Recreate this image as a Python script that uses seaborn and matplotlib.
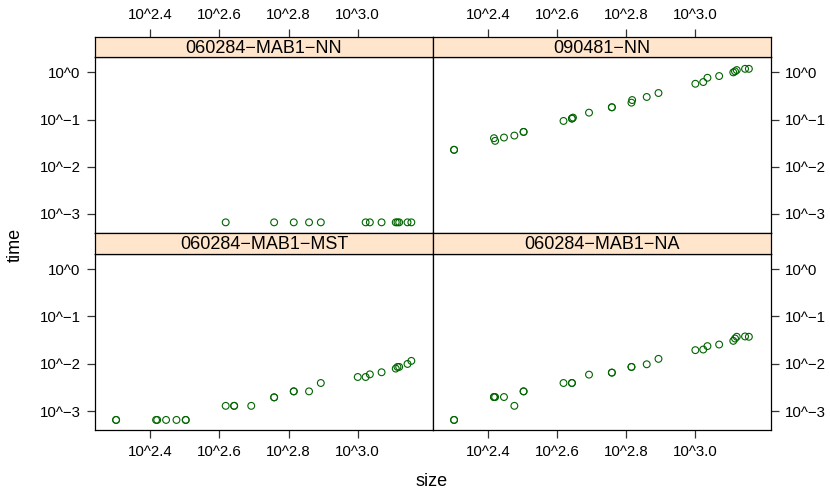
import numpy as np
import pandas as pd
import matplotlib
matplotlib.use("Agg")
import matplotlib.pyplot as plt
import seaborn as sns

sns.set_style("white")
plt.rcParams['font.family'] = ['Liberation Sans', 'DejaVu Sans']
plt.rcParams['text.color'] = 'black'
plt.rcParams['xtick.labelcolor'] = 'black'
plt.rcParams['ytick.labelcolor'] = 'black'

# ---- data ----
panels = ["060284\u2212MAB1\u2212NN", "090481\u2212NN", "060284\u2212MAB1\u2212MST", "060284\u2212MAB1\u2212NA"]

size_mab1_nn = [415, 573, 653, 723, 782, 1054, 1084, 1172, 1288, 1303, 1318, 1393, 1429]
time_mab1_nn = [0.00066] * 13

size_090481_nn = [200, 200, 261, 263, 279, 299, 318, 318, 415, 439, 439, 442, 492, 573, 573,
                  653, 656, 723, 782, 1000, 1054, 1084, 1172, 1288, 1303, 1318, 1393, 1429]
time_090481_nn = [0.0228, 0.0228, 0.0402, 0.0353, 0.0415, 0.0457, 0.0547, 0.0547, 0.0933, 0.105,
                  0.105, 0.110, 0.140, 0.182, 0.182, 0.228, 0.259, 0.301, 0.365, 0.574, 0.624,
                  0.769, 0.836, 1.00, 1.05, 1.12, 1.19, 1.19]

size_mab1_mst = [200, 200, 261, 263, 279, 299, 318, 318, 415, 439, 439, 492, 573, 573, 653, 653,
                 723, 782, 1000, 1054, 1084, 1172, 1288, 1303, 1318, 1393, 1429]
time_mab1_mst = [0.00065, 0.00065, 0.00065, 0.00065, 0.00065, 0.00065, 0.00065, 0.00065, 0.00129,
                 0.00129, 0.00129, 0.00129, 0.00195, 0.00195, 0.00261, 0.00261, 0.00261, 0.00392,
                 0.00525, 0.00525, 0.00598, 0.00661, 0.00791, 0.00857, 0.00857, 0.00991, 0.0115]

size_mab1_na = [200, 200, 261, 261, 263, 279, 299, 318, 318, 415, 439, 439, 492, 573, 573, 653,
                653, 723, 782, 1000, 1054, 1084, 1172, 1288, 1303, 1318, 1393, 1429]
time_mab1_na = [0.00065, 0.00065, 0.00198, 0.00198, 0.00198, 0.00198, 0.00129, 0.00261, 0.00261,
                0.00392, 0.00392, 0.00392, 0.00589, 0.00650, 0.00650, 0.00857, 0.00857, 0.00975,
                0.0127, 0.0194, 0.0200, 0.0236, 0.0255, 0.0305, 0.0342, 0.0372, 0.0378, 0.0372]

x_tick_exp = [2.4, 2.6, 2.8, 3.0]
x_tick_labels = ["10^2.4", "10^2.6", "10^2.8", "10^3.0"]
y_tick_exp = [0, -1, -2, -3]
y_tick_labels = ["10^0", "10^\u22121", "10^\u22122", "10^\u22123"]

series = [(size_mab1_nn, time_mab1_nn), (size_090481_nn, time_090481_nn),
          (size_mab1_mst, time_mab1_mst), (size_mab1_na, time_mab1_na)]

# ---- layout (pixels) ----
W, H = 830, 490
fig = plt.figure(figsize=(W / 100, H / 100), dpi=100)

def rect(x0, y0, x1, y1):
    return [x0 / W, 1 - y1 / H, (x1 - x0) / W, (y1 - y0) / H]

cols = [(95, 433), (433, 770.5)]
rows = [((36.7, 57.3), (57.3, 232.7)), ((233, 254), (254, 430))]

xlim = (10 ** 2.24, 10 ** 3.2177)
ylim = (10 ** -3.40, 10 ** 0.32)

green = "#006400"
strip_bg = "#FFE5CC"
tick_col = "#333333"
fs_tick = 10.8
fs_strip = 13.0

for i, name in enumerate(panels):
    r, c = divmod(i, 2)
    (sy0, sy1), (py0, py1) = rows[r]
    x0, x1 = cols[c]
    ax = fig.add_axes(rect(x0, py0, x1, py1))
    sax = fig.add_axes(rect(x0, sy0, x1, sy1))

    xs, ts = series[i]
    df = pd.DataFrame({"size": xs, "time": ts})
    sns.scatterplot(data=df, x="size", y="time", ax=ax, marker="o", s=24,
                    facecolor="none", edgecolor=green, linewidth=0.8, legend=False)
    ax.set_xscale("log")
    ax.set_yscale("log")
    ax.set_xlim(*xlim)
    ax.set_ylim(*ylim)
    ax.set_xlabel("")
    ax.set_ylabel("")
    ax.minorticks_off()
    for sp in ax.spines.values():
        sp.set_color("black")
        sp.set_linewidth(0.9)

    # strip
    sax.set_facecolor(strip_bg)
    sax.set_xscale("log")
    sax.set_xlim(*xlim)
    sax.set_ylim(0, 1)
    sax.set_yticks([])
    sax.minorticks_off()
    for sp in sax.spines.values():
        sp.set_color("black")
        sp.set_linewidth(0.9)
    sax.text(0.5, 0.45, name, ha="center", va="center", fontsize=fs_strip,
             color="black", transform=sax.transAxes)

    xt = [10 ** e for e in x_tick_exp]
    yt = [10 ** e for e in y_tick_exp]
    ax.set_yticks(yt)
    ax.set_yticklabels(y_tick_labels)
    if c == 0:
        ax.tick_params(axis="y", left=True, right=False, labelleft=True, labelright=False,
                       length=5.5, width=0.9, color=tick_col, pad=5, labelsize=fs_tick)
    else:
        ax.tick_params(axis="y", left=False, right=True, labelleft=False, labelright=True,
                       length=5.5, width=0.9, color=tick_col, pad=5, labelsize=fs_tick)

    if r == 0:
        ax.set_xticks([])
        sax.set_xticks(xt)
        sax.set_xticklabels(x_tick_labels)
        sax.tick_params(axis="x", top=True, bottom=False, labeltop=True, labelbottom=False,
                        length=5.5, width=0.9, color=tick_col, pad=5, labelsize=fs_tick)
    else:
        sax.set_xticks([])
        ax.set_xticks(xt)
        ax.set_xticklabels(x_tick_labels)
        ax.tick_params(axis="x", top=False, bottom=True, labeltop=False, labelbottom=True,
                       length=5.5, width=0.9, color=tick_col, pad=5, labelsize=fs_tick)

fig.text(432 / W, 1 - 481 / H, "size", ha="center", va="center", fontsize=fs_strip, color="black")
fig.text(15 / W, 1 - 245 / H, "time", ha="center", va="center", rotation=90,
         fontsize=fs_strip, color="black")

fig.savefig("out.png", dpi=100, facecolor="white")
